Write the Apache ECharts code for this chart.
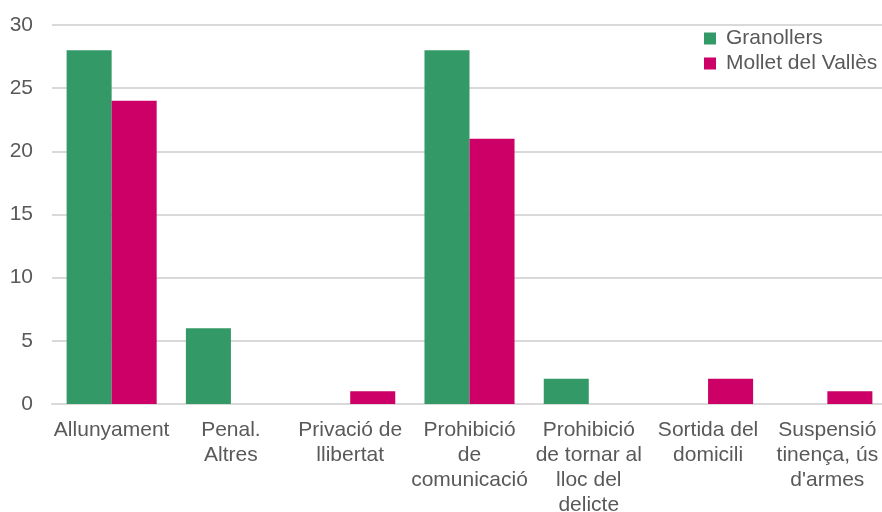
<!DOCTYPE html>
<html><head><meta charset="utf-8">
<script src="https://cdn.jsdelivr.net/npm/echarts@6/dist/echarts.min.js"></script>
<style>html,body{margin:0;padding:0;background:#fff}#c{width:882px;height:512px}</style>
</head><body><div id="c"></div>
<script>
const categories = ["Allunyament","Penal.\nAltres","Privació de\nllibertat","Prohibició\nde\ncomunicació","Prohibició\nde tornar al\nlloc del\ndelicte","Sortida del\ndomicili","Suspensió\ntinença, ús\nd'armes"];
const seriesNames = ["Granollers","Mollet del Vallès"];
const granollers = [28, 6, 0, 28, 2, 0, 0];
const mollet = [24, 0, 1, 21, 0, 2, 1];
const yTicks = {min:0, max:30, interval:5};

const font = "'Liberation Sans', Arial, sans-serif";
const chart = echarts.init(document.getElementById('c'));
chart.setOption({
  animation:false,
  textStyle:{fontFamily:font},
  grid:{left:52, top:25, width:835, height:379, containLabel:false, outerBoundsMode:'none'},
  legend:{
    orient:'vertical', left:699, top:23,
    itemWidth:12, itemHeight:12, itemGap:4,
    icon:'rect',
    textStyle:{fontFamily:font, fontSize:21, color:'#595959', padding:[0,0,0,5]},
    data:seriesNames
  },
  xAxis:{
    type:'category', data:categories,
    axisLine:{lineStyle:{color:'#d9d9d9', width:2}},
    axisTick:{show:false},
    axisLabel:{interval:0, margin:14, fontFamily:font, fontSize:21, lineHeight:25, color:'#595959'}
  },
  yAxis:{
    type:'value', min:yTicks.min, max:yTicks.max, interval:yTicks.interval,
    axisLine:{show:false}, axisTick:{show:false},
    splitLine:{lineStyle:{color:'#d9d9d9', width:2}},
    axisLabel:{margin:19, fontFamily:font, fontSize:21, color:'#595959'}
  },
  series:[
    {name:seriesNames[0], type:'bar', data:granollers, itemStyle:{color:'#339966'}, barGap:'0%', barCategoryGap:'24.5%'},
    {name:seriesNames[1], type:'bar', data:mollet, itemStyle:{color:'#CC0066'}, barGap:'0%', barCategoryGap:'24.5%'}
  ]
});
</script></body></html>
